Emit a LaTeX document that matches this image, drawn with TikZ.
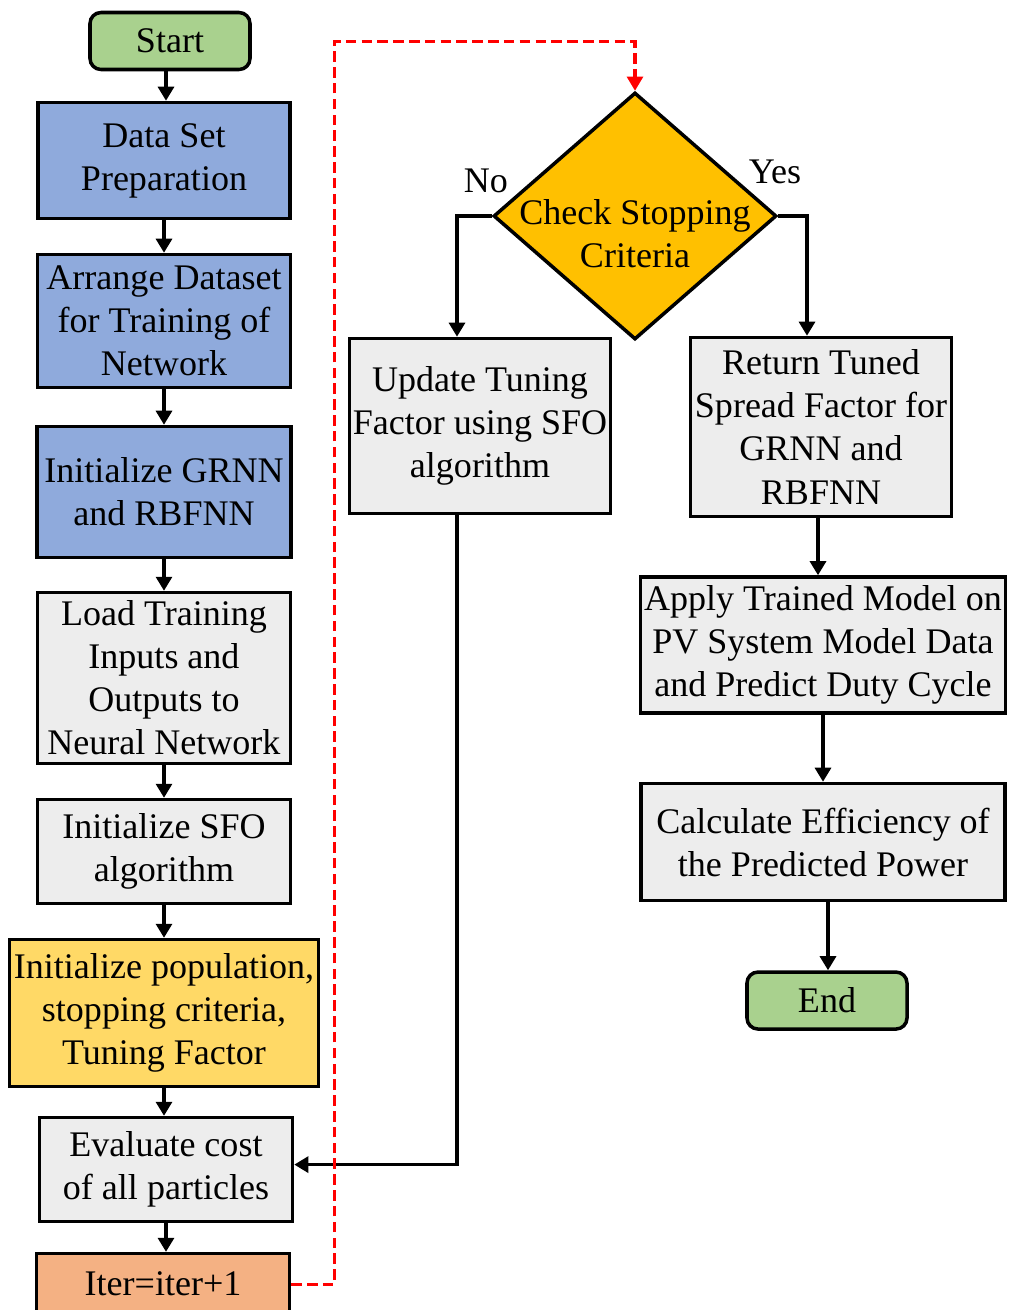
\documentclass[tikz,border=0pt]{standalone}
\usepackage{fontspec}
\setmainfont{Liberation Serif}
\usetikzlibrary{positioning, arrows.meta, shapes.geometric}

\definecolor{startgreen}{HTML}{A9D18E}
\definecolor{prepblue}{HTML}{8FAADC}
\definecolor{stepgray}{HTML}{EDEDED}
\definecolor{popyellow}{HTML}{FFD966}
\definecolor{iterorange}{HTML}{F4B183}
\definecolor{checkgold}{HTML}{FFC000}

\begin{document}
\begin{tikzpicture}[
    % --- Styles ---
    block/.style={
        rectangle,
        draw=black,
        fill=stepgray,
        line width=2pt,
        inner sep=2pt,
        align=center,
        font=\fontsize{20.5}{24.5}\selectfont
    },
    blueblock/.style={block, fill=prepblue},
    terminal/.style={block, fill=startgreen, rounded corners=0.22cm,
        minimum width=3.2cm, minimum height=1.14cm},
    decision/.style={
        diamond,
        draw=black,
        fill=checkgold,
        line width=2pt,
        inner sep=0pt,
        minimum width=5.66cm,
        minimum height=4.94cm
    },
    lbl/.style={font=\fontsize{20.5}{24.5}\selectfont},
    arrow/.style={
        -{Triangle[length=8pt, width=9pt]},
        line width=2pt
    },
    redarrow/.style={
        -{Triangle[length=8pt, width=9pt]},
        draw=red,
        line width=1.8pt,
        dash pattern=on 6pt off 3pt
    }
]
\useasboundingbox (0,0) rectangle (20.18,-26.2);

% --- Left column (relative positioning) ---
\node[terminal] (start) at (3.4,-0.82) {Start};
\node[blueblock, below=0.59cm of start, xshift=-0.12cm, minimum width=5.04cm, minimum height=2.32cm]
    (prep) {Data Set\\Preparation};
\node[blueblock, below=0.65cm of prep, minimum width=5.06cm, minimum height=2.66cm]
    (arrange) {Arrange Dataset\\for Training of\\Network};
\node[blueblock, below=0.71cm of arrange, minimum width=5.08cm, minimum height=2.62cm]
    (initnn) {Initialize GRNN\\and RBFNN};
\node[block, below=0.63cm of initnn, minimum width=5.06cm, minimum height=3.42cm]
    (load) {Load Training\\Inputs and\\Outputs to\\Neural Network};
\node[block, below=0.65cm of load, minimum width=5.06cm, minimum height=2.08cm]
    (initsfo) {Initialize SFO\\algorithm};
\node[block, fill=popyellow, below=0.65cm of initsfo, minimum width=6.18cm, minimum height=2.94cm]
    (pop) {Initialize population,\\stopping criteria,\\Tuning Factor};
\node[block, below=0.55cm of pop, xshift=0.04cm, minimum width=5.06cm, minimum height=2.08cm]
    (eval) {Evaluate cost\\of all particles};
\node[block, fill=iterorange, below=0.57cm of eval, xshift=-0.06cm, minimum width=5.06cm, minimum height=1.22cm]
    (iter) {Iter=iter+1};

% --- Right part ---
\node[decision, label={[lbl, align=center, yshift=-0.36cm]center:Check Stopping\\Criteria}]
    (check) at (12.7,-4.32) {};
\node[lbl] (no) at (9.72,-3.62) {No};
\node[lbl] (yes) at (15.5,-3.44) {Yes};

\node[block, minimum width=5.22cm, minimum height=3.5cm] (update) at (9.6,-8.52)
    {Update Tuning\\Factor using SFO\\algorithm};
\node[block, minimum width=5.22cm, minimum height=3.58cm] (ret) at (16.42,-8.54)
    {Return Tuned\\Spread Factor for\\GRNN and\\RBFNN};
\node[block, below=1.14cm of ret, xshift=0.04cm, minimum width=7.3cm, minimum height=2.72cm]
    (apply) {Apply Trained Model on\\PV System Model Data\\and Predict Duty Cycle};
\node[block, below=1.34cm of apply, minimum width=7.28cm, minimum height=2.34cm]
    (calc) {Calculate Efficiency of\\the Predicted Power};
\node[terminal, below=1.36cm of calc, xshift=0.08cm] (end) {End};

% --- Arrows ---
\draw[arrow] ([xshift=-0.08cm]start.south) -- ([xshift=-0.08cm]start.south |- prep.north);
\draw[arrow] (prep) -- (arrange);
\draw[arrow] (arrange) -- (initnn);
\draw[arrow] (initnn) -- (load);
\draw[arrow] (load) -- (initsfo);
\draw[arrow] (initsfo) -- (initsfo |- pop.north);
\draw[arrow] (initsfo |- pop.south) -- (initsfo |- eval.north);
\draw[arrow] (eval) -- (eval |- iter.north);

\draw[arrow] (check.west) -| ([xshift=-0.46cm]update.north);
\draw[arrow] (check.east) -| ([xshift=-0.28cm]ret.north);
\draw[arrow] ([xshift=-0.46cm]update.south) |- ([yshift=0.1cm]eval.east);
\draw[arrow] ([xshift=-0.06cm]ret.south) -- ([xshift=-0.06cm]ret.south |- apply.north);
\draw[arrow] (apply) -- (apply |- calc.north);
\draw[arrow] ([xshift=0.1cm]calc.south) -- ([xshift=0.1cm]calc.south |- end.north);

% --- Loop back to the stopping check ---
\draw[redarrow] (iter.east) -- ++(0.86,0) |- ([yshift=0.98cm]check.north) -- (check.north);

\end{tikzpicture}
\end{document}
